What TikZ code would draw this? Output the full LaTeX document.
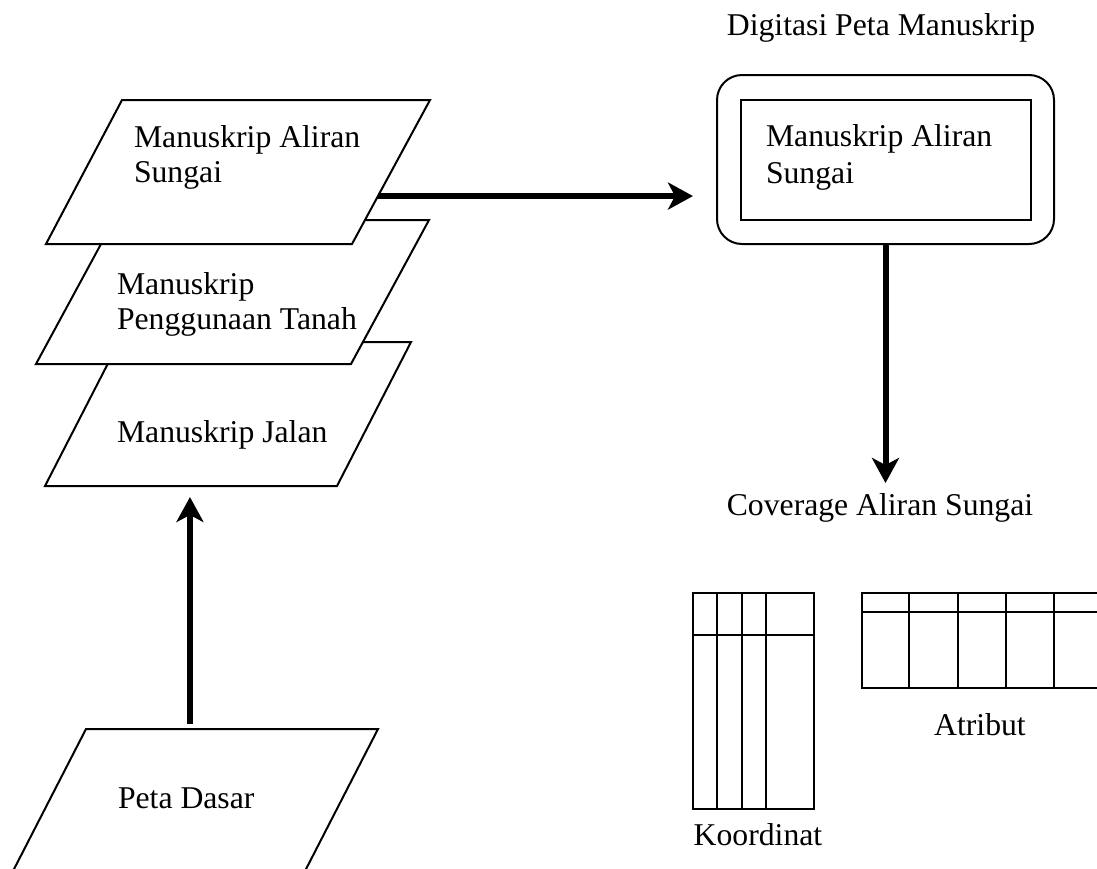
\documentclass[tikz,border=0pt]{standalone}
\usepackage{fontspec}
\setmainfont{Liberation Serif}
\usetikzlibrary{arrows.meta,calc}
\begin{document}
\begin{tikzpicture}[x=1pt,y=-1pt,
  sheet/.style={draw, line width=2pt, fill=white, line join=miter},
  lbl/.style={font=\fontsize{31.7pt}{35pt}\selectfont, inner sep=0pt, outer sep=0pt},
  flow/.style={line width=6pt, -{Stealth[length=25pt,width=27pt,inset=7pt]}},
  grid/.style={line width=2pt}]
\useasboundingbox (0,0) rectangle (1097,868);
\clip (0,0) rectangle (1097,868);

% stacked map layers (drawn bottom to top)
\draw[sheet] (119,342) coordinate (p3tl) -- (411,342) coordinate (p3tr)
  -- (337,486) coordinate (p3br) -- (45,486) coordinate (p3bl) -- cycle;
\draw[sheet] (114,220) coordinate (p2tl) -- (429,220) coordinate (p2tr)
  -- (351,364) coordinate (p2br) -- (36,364) coordinate (p2bl) -- cycle;
\draw[sheet] (122,100) coordinate (p1tl) -- (430,100) coordinate (p1tr)
  -- (352,244) coordinate (p1br) -- (46,244) coordinate (p1bl) -- cycle;
\draw[sheet] (86,729) coordinate (pdtl) -- (378,729) coordinate (pdtr)
  -- (304,873) coordinate (pdbr) -- (12,873) coordinate (pdbl) -- cycle;

\node[lbl, anchor=base west] (t1a) at (134,147) {Manuskrip Aliran};
\node[lbl, anchor=base west] (t1b) at (134,182) {Sungai};
\node[lbl, anchor=base west] (t2a) at (117,294) {Manuskrip};
\node[lbl, anchor=base west] (t2b) at (117,329) {Penggunaan Tanah};
\node[lbl, anchor=base west] (t3) at (117,442) {Manuskrip Jalan};
\node[lbl, anchor=base west] (t4) at (118,808) {Peta Dasar};

% digitising box
\node[lbl, anchor=base] (title) at (881,35) {Digitasi Peta Manuskrip};
\node[draw, line width=2pt, rounded corners=25pt, minimum width=337pt,
      minimum height=169pt, inner sep=0pt, outer sep=0pt] (box) at (885.5,159.5) {};
\node[draw, line width=2pt, minimum width=290pt, minimum height=120pt,
      inner sep=0pt, outer sep=0pt] (inner) at (886,160) {};
\node[lbl, anchor=base west] (t5a) at (766,146) {Manuskrip Aliran};
\node[lbl, anchor=base west] (t5b) at (766,183) {Sungai};

\node[lbl, anchor=base] (cov) at (880,515) {Coverage Aliran Sungai};

% connectors
\coordinate (a1) at ($(p1br)!0.333!(p1tr)$);
\draw[flow] (a1) -- ($(box.west |- a1)+(-24,0)$);
\draw[flow] (box.south) -- ($(box.south |- cov.north)+(0,-10)$);
\coordinate (a2) at ($(pdtl)!0.356!(pdtr)$);
\draw[flow] ($(a2)+(0,-5)$) -- ($(a2 |- p3bl)+(0,11)$);

% coordinate table
\draw[grid] (693,593) rectangle (814,809);
\draw[grid] (693,635) -- (814,635);
\foreach \x in {717,742,766} \draw[grid] (\x,593) -- (\x,809);
\node[lbl, anchor=base] (koord) at (758,845) {Koordinat};

% attribute table
\draw[grid] (1100,593) -- (862,593) -- (862,688) -- (1100,688);
\draw[grid] (862,612) -- (1100,612);
\foreach \x in {909,958,1006,1054} \draw[grid] (\x,593) -- (\x,688);
\node[lbl, anchor=base] (atr) at (980,735) {Atribut};
\end{tikzpicture}
\end{document}
